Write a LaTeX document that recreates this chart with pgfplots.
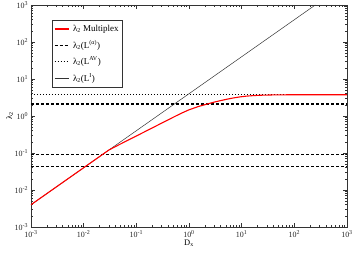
\documentclass[border=0pt]{standalone}
\usepackage{fontspec}
\setmainfont{Liberation Serif}
\usepackage{pgfplots}
\pgfplotsset{compat=1.18}
\pgfplotstableread{
x y
0.001 0.004
0.003 0.012
0.01 0.04
0.02 0.08
0.03 0.12
0.04 0.149
0.05 0.175
0.07 0.223
0.1 0.288
0.15 0.386
0.2 0.475
0.3 0.638
0.5 0.922
0.7 1.17
1.0 1.47
1.5 1.80
2.2 2.10
3 2.37
4 2.61
5.35 2.86
7 3.08
9.5 3.30
13 3.47
18 3.58
23 3.64
35 3.70
50 3.73
100 3.755
300 3.76
1000 3.76
}\multiplex
\begin{document}
\fontsize{8}{9.6}\selectfont
\begin{tikzpicture}
\begin{loglogaxis}[
  scale only axis, width=316bp, height=222bp,
  xmin=1e-3, xmax=1e3, ymin=1e-3, ymax=1e3,
  xtick={1e-3,1e-2,1e-1,1,10,100,1000},
  ytick={1e-3,1e-2,1e-1,1,10,100,1000},
  xticklabels={10\textsuperscript{-3},10\textsuperscript{-2},10\textsuperscript{-1},10\textsuperscript{0},10\textsuperscript{1},10\textsuperscript{2},10\textsuperscript{3}},
  yticklabels={10\textsuperscript{-3},10\textsuperscript{-2},10\textsuperscript{-1},10\textsuperscript{0},10\textsuperscript{1},10\textsuperscript{2},10\textsuperscript{3}},
  minor xtick={2e-3,3e-3,4e-3,5e-3,6e-3,7e-3,8e-3,9e-3,2e-2,3e-2,4e-2,5e-2,6e-2,7e-2,8e-2,9e-2,0.2,0.3,0.4,0.5,0.6,0.7,0.8,0.9,2,3,4,5,6,7,8,9,20,30,40,50,60,70,80,90,200,300,400,500,600,700,800,900},
  minor ytick={2e-3,3e-3,4e-3,5e-3,6e-3,7e-3,8e-3,9e-3,2e-2,3e-2,4e-2,5e-2,6e-2,7e-2,8e-2,9e-2,0.2,0.3,0.4,0.5,0.6,0.7,0.8,0.9,2,3,4,5,6,7,8,9,20,30,40,50,60,70,80,90,200,300,400,500,600,700,800,900},
  tick align=inside,
  major tick length=4.5bp, minor tick length=2.5bp,
  every tick/.style={black!80, line width=0.5pt},
  axis line style={black!80, line width=0.7pt},
  tick label style={font=\fontsize{8}{9}\selectfont, text=black!85},
  xticklabel style={yshift=-1bp},
  xlabel={D\textsubscript{x}},
  ylabel={λ\textsubscript{2}},
  label style={font=\fontsize{8.5}{9}\selectfont},
  xlabel style={yshift=3bp},
  ylabel style={yshift=-4bp},
  legend cell align=left,
  legend style={at={(rel axis cs:0.066,0.932)}, anchor=north west,
    draw=black!80, fill=white,
    font=\fontsize{9}{10.8}\selectfont, row sep=3.5bp, column sep=2bp,
    inner xsep=2bp, inner ysep=3bp},
  legend image code/.code={\draw[#1] (0bp,0bp) -- (14bp,0bp);},
]
\addlegendimage{red, line width=1.1pt}
\addlegendentry{λ\textsubscript{2} Multiplex}
\addlegendimage{black, line width=0.5pt, dash pattern=on 3bp off 2bp}
\addlegendentry{λ\textsubscript{2}(L\textsuperscript{(α)})}
\addlegendimage{black, line width=0.5pt, dash pattern=on 0.9bp off 2.1bp}
\addlegendentry{λ\textsubscript{2}(L\textsuperscript{AV})}
\addlegendimage{black!80, line width=0.5pt}
\addlegendentry{λ\textsubscript{2}(L\textsuperscript{I})}
\addplot[black, line width=0.5pt, dash pattern=on 3bp off 2bp, forget plot] coordinates {(1e-3,0.094) (1e3,0.094)};
\addplot[black, line width=0.5pt, dash pattern=on 0.9bp off 2.1bp, forget plot] coordinates {(1e-3,3.76) (1e3,3.76)};
\addplot[black!80, line width=0.5pt, forget plot] coordinates {(1e-3,0.004) (250,1000)};
\addplot[black, line width=0.5pt, dash pattern=on 3bp off 2bp, forget plot] coordinates {(1e-3,0.044) (1e3,0.044)};
\addplot[black, line width=0.5pt, dash pattern=on 3bp off 2bp, forget plot] coordinates {(1e-3,2.05) (1e3,2.05)};
\addplot[black, line width=0.5pt, dash pattern=on 3bp off 2bp, forget plot] coordinates {(1e-3,2.18) (1e3,2.18)};
\addplot[red, line width=1.1pt, forget plot] table {\multiplex};
\end{loglogaxis}
\pgfresetboundingbox
\path[use as bounding box] ([shift={(-31bp,-26bp)}]current axis.south west) rectangle ([shift={(6bp,5bp)}]current axis.north east);
\end{tikzpicture}
\end{document}
